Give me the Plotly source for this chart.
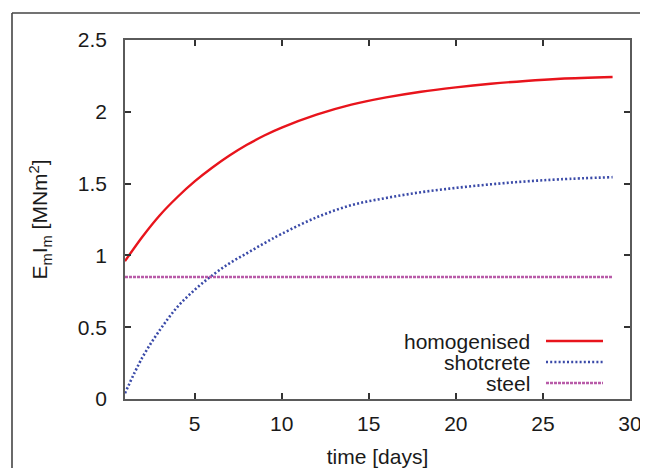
import plotly.graph_objects as go

# ---- data ----
days = [1, 2, 3, 4, 5, 6, 7, 8, 9, 10, 12, 14, 16, 18, 20, 22, 24, 26, 29]
homogenised = [0.96, 1.13, 1.28, 1.405, 1.515, 1.61, 1.695, 1.77, 1.835, 1.89,
               1.98, 2.05, 2.10, 2.14, 2.17, 2.195, 2.215, 2.23, 2.242]
shotcrete = [0.04, 0.29, 0.48, 0.64, 0.76, 0.86, 0.945, 1.015, 1.085, 1.15,
             1.265, 1.35, 1.40, 1.44, 1.47, 1.495, 1.515, 1.53, 1.545]
steel_days = [1, 29]
steel = [0.85, 0.85]

series_names = ["homogenised", "shotcrete", "steel"]
x_ticks = [5, 10, 15, 20, 25, 30]
y_ticks = [0, 0.5, 1, 1.5, 2, 2.5]

RED = "#e8141c"
BLUE = "#3a4aa8"
PURPLE = "#b85aa8"
FONT = "Liberation Sans, Arial, sans-serif"
FS = 21

fig = go.Figure()
fig.add_trace(go.Scatter(x=days, y=homogenised, mode="lines", name=series_names[0],
                         line=dict(color=RED, width=2.4, shape="spline", smoothing=1.0)))
fig.add_trace(go.Scatter(x=days, y=shotcrete, mode="lines", name=series_names[1],
                         line=dict(color=BLUE, width=2.6, dash="2px,2.2px",
                                   shape="spline", smoothing=1.0)))
fig.add_trace(go.Scatter(x=steel_days, y=steel, mode="lines", name=series_names[2],
                         line=dict(color=PURPLE, width=2.4, dash="3px,1px")))

axis_common = dict(
    showline=True, linecolor="#5a5a5a", linewidth=1.6, mirror="ticks",
    ticks="inside", ticklen=6, tickwidth=1.5, tickcolor="#333",
    showgrid=False, zeroline=False, automargin=False,
    tickfont=dict(family=FONT, size=FS, color="#1a1a1a"),
)

fig.update_xaxes(range=[1, 30], tickvals=x_ticks, ticklabelstandoff=5,
                 title=dict(text="time [days]", font=dict(family=FONT, size=FS, color="#1a1a1a"),
                            standoff=15),
                 **axis_common)
fig.update_yaxes(range=[0, 2.5], tickvals=y_ticks, ticklabelstandoff=12,
                 title=dict(text="E<sub>m</sub>I<sub>m</sub> [MNm<sup>2</sup>]",
                            font=dict(family=FONT, size=FS, color="#1a1a1a"), standoff=24),
                 **axis_common)

# legend drawn gnuplot-style: right-aligned text, sample line to its right
legend_styles = [dict(color=RED, width=2.4),
                 dict(color=BLUE, width=2.6, dash="2px,2.2px"),
                 dict(color=PURPLE, width=2.4, dash="3px,1px")]
PW, PH = 505.0, 359.0
for i, (name, ls) in enumerate(zip(series_names, legend_styles)):
    yp = (399 - (341 + 21 * i)) / PH
    fig.add_annotation(x=(532 - 125) / PW, y=yp, xref="paper", yref="paper",
                       text=name, showarrow=False, xanchor="right", yanchor="middle",
                       font=dict(family=FONT, size=FS, color="#1a1a1a"))
    fig.add_shape(type="line", xref="paper", yref="paper",
                  x0=(546 - 125) / PW, x1=(603 - 125) / PW, y0=yp, y1=yp, line=ls)

# outer frame (left and top edges visible)
fx = (12 - 125) / PW
fy = (399 - 13) / PH
fig.add_shape(type="line", xref="paper", yref="paper", x0=fx, x1=fx, y0=fy, y1=-0.3,
              line=dict(color="#444", width=1.6))
fig.add_shape(type="line", xref="paper", yref="paper", x0=fx, x1=1.2, y0=fy, y1=fy,
              line=dict(color="#444", width=1.6))

# page = 8px body margin + figure
fig.update_layout(
    width=640, height=460,
    margin=dict(l=117, r=18, t=32, b=69),
    paper_bgcolor="white", plot_bgcolor="white",
    showlegend=False,
    font=dict(family=FONT, size=FS, color="#1a1a1a"),
)

fig.write_html("out.html")
